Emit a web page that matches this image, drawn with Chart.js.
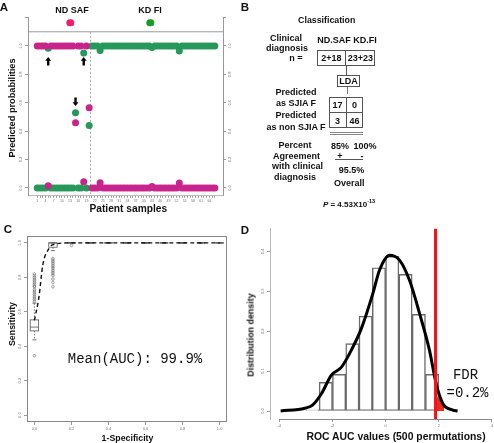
<!DOCTYPE html>
<html><head><meta charset="utf-8">
<script src="https://cdn.jsdelivr.net/npm/chart.js@4.4.1/dist/chart.umd.min.js"></script>
<style>
html,body{margin:0;padding:0;background:#fff}
body{width:494px;height:443px;position:relative;overflow:hidden;font-family:"Liberation Sans",Arial,sans-serif;color:#111}
canvas{position:absolute}
.t{position:absolute;white-space:nowrap;line-height:1;transform:translate(-50%,-50%);font-weight:bold;font-size:9px}
.r{transform:translate(-50%,-50%) rotate(-90deg)}
.ln{position:absolute;background:#555}
.bx{position:absolute;border:1px solid #555;box-sizing:border-box}
.mono{font-family:"Liberation Mono","Courier New",monospace;font-weight:normal;font-size:14px}
.dot{position:absolute;border-radius:50%;width:7.4px;height:7.4px;transform:translate(-50%,-50%)}
</style></head><body>
<canvas id="cA" width="240" height="218" style="left:0;top:0"></canvas>
<canvas id="cC" width="240" height="213" style="left:0;top:230px"></canvas>
<canvas id="cD" width="254" height="218" style="left:240px;top:225px"></canvas>

<!-- panel letters -->
<div class="t" style="left:4px;top:7.5px;font-size:11.5px">A</div>
<div class="t" style="left:245px;top:7.5px;font-size:11.5px">B</div>
<div class="t" style="left:8px;top:229.5px;font-size:11.5px">C</div>
<div class="t" style="left:245px;top:231px;font-size:11.5px">D</div>

<!-- panel A legend & titles -->
<div class="t" style="left:72px;top:10px">ND SAF</div>
<div class="t" style="left:150px;top:10px">KD FI</div>
<div class="dot" style="left:70.3px;top:23px;background:#EE1C6E"></div>
<div class="dot" style="left:150.3px;top:23px;background:#12A024"></div>
<div class="t r" style="left:13px;top:107.5px;font-size:9.2px">Predicted probabilities</div>
<div class="t" style="left:128.3px;top:208.5px;font-size:10.2px">Patient samples</div>

<!-- panel B -->
<div class="t" style="left:326.7px;top:20px;font-size:8.8px">Classification</div>
<div class="t" style="left:286px;top:38px">Clinical</div>
<div class="t" style="left:287px;top:48px">diagnosis</div>
<div class="t" style="left:296px;top:58px">n =</div>
<div class="t" style="left:347px;top:40px">ND.SAF KD.FI</div>
<div class="bx" style="left:317px;top:50px;width:58px;height:16px"></div>
<div class="ln" style="left:345px;top:50px;width:1px;height:16px"></div>
<div class="t" style="left:331.4px;top:58.3px">2+18</div>
<div class="t" style="left:360.4px;top:58.3px">23+23</div>
<div class="ln" style="left:346px;top:66px;width:1px;height:9px"></div>
<div class="bx" style="left:337px;top:75px;width:23px;height:12px"></div>
<div class="t" style="left:348.5px;top:81.3px">LDA</div>
<div class="ln" style="left:346.5px;top:87px;width:0.8px;height:7px;background:#777"></div>
<div class="t" style="left:296px;top:92px">Predicted</div>
<div class="t" style="left:296px;top:103px">as SJIA F</div>
<div class="t" style="left:296px;top:115px">Predicted</div>
<div class="t" style="left:296px;top:126.5px">as non SJIA F</div>
<div class="bx" style="left:329px;top:97px;width:34px;height:31px"></div>
<div class="ln" style="left:346px;top:97px;width:1px;height:31px"></div>
<div class="ln" style="left:329px;top:112px;width:34px;height:1px"></div>
<div class="t" style="left:337.5px;top:105px">17</div>
<div class="t" style="left:354.5px;top:105px">0</div>
<div class="t" style="left:337.5px;top:120.5px">3</div>
<div class="t" style="left:354.5px;top:120.5px">46</div>
<div class="ln" style="left:330px;top:131.5px;width:33px;height:0.8px;background:#888"></div>
<div class="ln" style="left:330px;top:133.5px;width:33px;height:0.8px;background:#888"></div>
<div class="t" style="left:295px;top:145px">Percent</div>
<div class="t" style="left:296.5px;top:155.7px">Agreement</div>
<div class="t" style="left:297.5px;top:166px">with clinical</div>
<div class="t" style="left:295px;top:176.7px">diagnosis</div>
<div class="t" style="left:340px;top:145.7px">85%</div>
<div class="t" style="left:365px;top:145.7px">100%</div>
<div class="t" style="left:340px;top:156px">+</div>
<div class="t" style="left:362px;top:155.5px">-</div>
<div class="ln" style="left:335px;top:159px;width:28px;height:1px"></div>
<div class="t" style="left:351.5px;top:169.5px">95.5%</div>
<div class="t" style="left:349.3px;top:183.3px">Overall</div>
<div class="t" style="left:349px;top:204px;font-size:8px"><i>P</i> = 4.53X10<sup style="font-size:5.5px">-13</sup></div>

<!-- panel C -->
<div class="t r" style="left:12px;top:324px;font-size:8.8px">Sensitivity</div>
<div class="t" style="left:127.5px;top:437.7px;font-size:8.8px">1-Specificity</div>
<div class="t mono" style="left:135px;top:359px">Mean(AUC): 99.9%</div>

<!-- panel D -->
<div class="t r" style="left:250.5px;top:335px;font-size:8.9px">Distribution density</div>
<div class="t" style="left:396px;top:437px;font-size:10.4px">ROC AUC values (500 permutations)</div>
<div class="t mono" style="left:465.5px;top:375px">FDR</div>
<div class="t mono" style="left:467.5px;top:393px">=0.2%</div>

<script>
// ---------------- Panel A data ----------------
const patients = [1,2,3,4,5,6,7,8,9,10,11,12,13,14,15,16,17,18,19,20,21,22,23,24,25,26,27,28,29,30,31,32,33,34,35,36,37,38,39,40,41,42,43,44,45,46,47,48,49,50,51,52,53,54,55,56,57,58,59,60,61,62,63,64,65,66];
const ndSafProb = [1,1,1,1,0.016,1,1,1,1,1,1,1,1,1,0.46,1,1,0.044,1,0.565,
  0,0,0,0.037,0,0,0,0,0,0,0,0,0,0,0,0,0,0,0,0,0,0,0.01,0,0,0,0,0,0,0,0,0,0.035,0,0,0,0,0,0,0,0,0,0,0,0,0];
const kdFiProb = [0,0,0,0,0.984,0,0,0,0,0,0,0,0,0,0.53,0,0,0.95,0,0.44,
  1,1,1,0.968,1,1,1,1,1,1,1,1,1,1,1,1,1,1,1,1,1,1,0.99,1,1,1,1,1,1,1,1,1,0.965,1,1,1,1,1,1,1,1,1,1,1,1,1];
const probTicks = [0,0.2,0.4,0.6,0.8,1.0,1.2];
const groupSplit = 20.5;
const headerLine = 1.1;
const arrowPatient = [5,18,15];
const arrowLevel = [0.89,0.89,0.61];
const arrowDir = ['up','up','down'];

// ---------------- Panel C data ----------------
const rocFpr = [0,0.025,0.045,0.08,0.1,0.2,0.3,0.4,0.5,0.6,0.7,0.8,0.9,1.0];
const rocTpr = [0.55,0.69,0.87,0.97,0.99,1,1,1,1,1,1,1,1,1];
const boxFpr = [0,0.1,0.2,0.3,0.4,0.5,0.6,0.7,0.8,0.9,1.0];
const boxQ1  = [0.489,0.975,1,1,1,1,1,1,1,1,1];
const boxMed = [0.511,1,1,1,1,1,1,1,1,1,1];
const boxQ3  = [0.553,1,1,1,1,1,1,1,1,1,1];
const whiskLo = [0.437,0.955,1,1,1,1,1,1,1,1,1];
const whiskHi = [0.65,1,1,1,1,1,1,1,1,1,1];
const outFpr = [0,0,0,0,0,0,0,0,0,0,0,0,0,0,0,0,0,0, 0.1,0.1,0.1,0.1,0.1,0.1,0.1,0.1,0.1,0.1,0.1,0.1,0.1,0.1, 0.2];
const outTpr = [0.82,0.81,0.80,0.79,0.78,0.77,0.76,0.75,0.745,0.73,0.72,0.71,0.70,0.69,0.68,0.67,0.66,0.345,
  0.91,0.90,0.89,0.88,0.87,0.86,0.85,0.84,0.83,0.82,0.81,0.79,0.77,0.745, 0.985];
const unitTicks = [0,0.2,0.4,0.6,0.8,1.0];

// ---------------- Panel D data ----------------
const binMid = [-2.75,-2.25,-1.75,-1.25,-0.75,-0.25,0.25,0.75,1.25,1.75];
const binDensity = [0.003,0.072,0.092,0.169,0.2375,0.359,0.3875,0.3425,0.242,0.092];
const densX = [-3.95,-3.04,-2.75,-2.41,-2.04,-1.66,-1.29,-0.91,-0.48,-0.23,0.15,0.53,0.9,1.28,1.65,1.9,2.15,2.53,2.71];
const densY = [0,0.007,0.015,0.044,0.09,0.11,0.1525,0.207,0.294,0.3525,0.39,0.3775,0.3275,0.244,0.1525,0.069,0.019,0.0025,0];
const observedAuc = 1.88;
const tailX = [1.88,1.95,2.05,2.15,2.2];
const tailY = [0.035,0.032,0.025,0.015,0.008];
const aucTicks = [-4,-2,0,2,4];
const densTicks = [0,0.1,0.2,0.3,0.4];
const countTicks = [0,2,4,6];

// ---------------- helpers ----------------
const tickFont = {family:'Liberation Sans, Arial', size:4};
const tickColor = '#777';
const base = {responsive:false, animation:false, events:[], plugins:{legend:{display:false}, tooltip:{enabled:false}}};
function fixTicks(list){ return s => { s.ticks = list.map(v => ({value:v})); }; }
function yAxis(min,max,ticks,width,pos,fmt,extra){
  return Object.assign({type:'linear', position:pos, min, max,
    afterBuildTicks: fixTicks(ticks), afterFit: s => { s.width = width; },
    ticks:{font:tickFont, color:tickColor, padding:1, minRotation:90, maxRotation:90, crossAlign:'center', callback: fmt},
    grid:{drawOnChartArea:false, tickLength:3, color:'#999'}, border:{color:'#999'}}, extra||{});
}

// ---------------- Chart A ----------------
const chartAPlugin = {
  id:'aExtras',
  beforeDatasetsDraw(chart){
    const {ctx, chartArea:ca, scales:{x,y}} = chart;
    ctx.save();
    ctx.strokeStyle = '#999'; ctx.lineWidth = 1;
    const yl = y.getPixelForValue(headerLine);
    ctx.beginPath(); ctx.moveTo(ca.left, yl); ctx.lineTo(ca.right, yl); ctx.stroke();
    ctx.setLineDash([2,2]); ctx.strokeStyle = '#aaa';
    const xs = x.getPixelForValue(groupSplit);
    ctx.beginPath(); ctx.moveTo(xs, yl); ctx.lineTo(xs, ca.bottom); ctx.stroke();
    ctx.restore();
  },
  afterDatasetsDraw(chart){
    const {ctx, scales:{x,y}} = chart;
    ctx.save(); ctx.fillStyle = '#000';
    arrowPatient.forEach((p,i) => {
      const px = x.getPixelForValue(p), py = y.getPixelForValue(arrowLevel[i]);
      const s = arrowDir[i] === 'up' ? -1 : 1;
      ctx.beginPath();
      ctx.moveTo(px, py + s*4.5);
      ctx.lineTo(px - 3, py + s*0.8);
      ctx.lineTo(px - 1.2, py + s*0.8);
      ctx.lineTo(px - 1.2, py - s*4);
      ctx.lineTo(px + 1.2, py - s*4);
      ctx.lineTo(px + 1.2, py + s*0.8);
      ctx.lineTo(px + 3, py + s*0.8);
      ctx.closePath(); ctx.fill();
    });
    ctx.restore();
  }
};
new Chart(document.getElementById('cA'), {
  type:'scatter',
  data:{datasets:[
    {label:'ND SAF', data: patients.map((p,i)=>({x:p, y:ndSafProb[i]})), pointRadius:3.5, pointBackgroundColor:'#C8258C', pointBorderWidth:0, order:1},
    {label:'KD FI', data: patients.map((p,i)=>({x:p, y:kdFiProb[i]})), pointRadius:3.5, pointBackgroundColor:'#27985A', pointBorderWidth:0, order:2}
  ]},
  options: Object.assign({}, base, {
    layout:{padding:{top:17.6, left:0, right:0, bottom:0}},
    scales:{
      x:{type:'linear', min:-2.4, max:69, afterBuildTicks: fixTicks(patients), afterFit: s => { s.height = 22.2; },
         ticks:{autoSkip:false, maxRotation:0, minRotation:0, font:{family:'Liberation Sans, Arial', size:3.5}, color:tickColor, padding:1,
           callback: v => ((v-1)%3===0 ? String(v) : '')},
         grid:{drawOnChartArea:false, tickLength:2, color:'#999'}, border:{color:'#bbb'}},
      y: yAxis(-0.055, 1.2, probTicks, 28, 'left', v => v > 1.05 ? '' : v.toFixed(1)),
      y2: yAxis(-0.055, 1.2, probTicks, 17, 'right', v => v > 1.05 ? '' : v.toFixed(1))
    }
  }),
  plugins:[chartAPlugin]
});

// ---------------- Chart C ----------------
const chartCPlugin = {
  id:'cExtras',
  beforeDatasetsDraw(chart){
    const {ctx, chartArea:ca, scales:{x,y}} = chart;
    ctx.save();
    ctx.strokeStyle = '#888'; ctx.lineWidth = 1;
    ctx.strokeRect(ca.left+0.5, ca.top+0.5, ca.right-ca.left-1, ca.bottom-ca.top-1);
    const hw = 4.2;
    boxFpr.forEach((f,i) => {
      const px = x.getPixelForValue(f);
      const q1 = y.getPixelForValue(boxQ1[i]), q3 = y.getPixelForValue(boxQ3[i]), md = y.getPixelForValue(boxMed[i]);
      const lo = y.getPixelForValue(whiskLo[i]), hi = y.getPixelForValue(whiskHi[i]);
      ctx.strokeStyle = '#555'; ctx.lineWidth = 0.8; ctx.setLineDash([]);
      ctx.strokeRect(px-hw, q3, hw*2, q1-q3);
      ctx.beginPath(); ctx.moveTo(px-hw, md); ctx.lineTo(px+hw, md); ctx.stroke();
      ctx.setLineDash([1.5,1.5]);
      ctx.beginPath(); ctx.moveTo(px, q1); ctx.lineTo(px, lo); ctx.moveTo(px, q3); ctx.lineTo(px, hi); ctx.stroke();
      ctx.setLineDash([]);
      ctx.beginPath(); ctx.moveTo(px-2, lo); ctx.lineTo(px+2, lo); ctx.moveTo(px-2, hi); ctx.lineTo(px+2, hi); ctx.stroke();
    });
    ctx.restore();
  }
};
new Chart(document.getElementById('cC'), {
  type:'scatter',
  data:{datasets:[
    {type:'line', label:'mean ROC', data: rocFpr.map((f,i)=>({x:f, y:rocTpr[i]})), borderColor:'#111', borderWidth:1.4,
     borderDash:[4,3], pointRadius:0, cubicInterpolationMode:'monotone', fill:false, order:1},
    {label:'outliers', data: outFpr.map((f,i)=>({x:f, y:outTpr[i]})), pointRadius:1.3, pointBackgroundColor:'rgba(0,0,0,0)',
     pointBorderColor:'#666', pointBorderWidth:0.6, order:2}
  ]},
  options: Object.assign({}, base, {
    layout:{padding:{top:6, left:0, right:13, bottom:0}},
    scales:{
      x:{type:'linear', min:-0.04, max:1.04, afterBuildTicks: fixTicks(unitTicks), afterFit: s => { s.height = 21; },
         ticks:{autoSkip:false, maxRotation:0, minRotation:0, font:tickFont, color:tickColor, padding:1, callback: v => v.toFixed(1)},
         grid:{drawOnChartArea:false, tickLength:3, color:'#999'}, border:{display:false}},
      y: yAxis(-0.04, 1.04, unitTicks, 27, 'left', v => v.toFixed(1), {border:{display:false}})
    }
  }),
  plugins:[chartCPlugin]
});

// ---------------- Chart D ----------------
const chartDPlugin = {
  id:'dExtras',
  afterDraw(chart){
    const {ctx, chartArea:ca, scales:{x}} = chart;
    ctx.save(); ctx.strokeStyle = '#888'; ctx.lineWidth = 1;
    ctx.beginPath();
    ctx.moveTo(x.getPixelForValue(aucTicks[0]), ca.bottom+0.5);
    ctx.lineTo(x.getPixelForValue(aucTicks[aucTicks.length-1]), ca.bottom+0.5);
    ctx.stroke(); ctx.restore();
  }
};
new Chart(document.getElementById('cD'), {
  type:'bar',
  data:{datasets:[
    {type:'line', label:'observed', data:[{x:observedAuc, y:-0.02},{x:observedAuc, y:0.4575}], borderColor:'#E3191C', borderWidth:3,
     pointRadius:0, yAxisID:'y', order:1},
    {type:'line', label:'density', data: densX.map((v,i)=>({x:v, y:densY[i]})), borderColor:'#000', borderWidth:3,
     pointRadius:0, tension:0.4, cubicInterpolationMode:'monotone', yAxisID:'y', order:2},
    {type:'line', label:'tail', data: tailX.map((v,i)=>({x:v, y:tailY[i]})), borderColor:'#F0281E', backgroundColor:'#F0281E',
     borderWidth:1.5, pointRadius:0, fill:'origin', yAxisID:'y', order:3},
    {type:'bar', label:'histogram', data: binMid.map((v,i)=>({x:v, y:binDensity[i]})), backgroundColor:'rgba(255,255,255,0)',
     borderColor:'#6a6a6a', borderWidth:0.8, borderSkipped:false, barPercentage:1, categoryPercentage:1, yAxisID:'y', order:4}
  ]},
  options: Object.assign({}, base, {
    layout:{padding:{top:3, left:0, right:0, bottom:0}},
    scales:{
      x:{type:'linear', offset:false, min:-4.35, max:4.05, afterBuildTicks: fixTicks(aucTicks), afterFit: s => { s.height = 24; },
         ticks:{autoSkip:false, maxRotation:0, minRotation:0, font:tickFont, color:tickColor, padding:1, callback: v => String(v)},
         grid:{drawOnChartArea:false, offset:false, tickLength:3, color:'#999'}, border:{display:false}},
      y: yAxis(-0.02, 0.4575, densTicks, 30, 'left', v => v.toFixed(1), {border:{color:'#bbb'}}),
      y2: yAxis(-0.64, 7.0, countTicks, 0.01, 'left', v => String(v), {grid:{drawOnChartArea:false, drawTicks:false}, border:{display:false}})
    }
  }),
  plugins:[chartDPlugin]
});
</script>
</body></html>
